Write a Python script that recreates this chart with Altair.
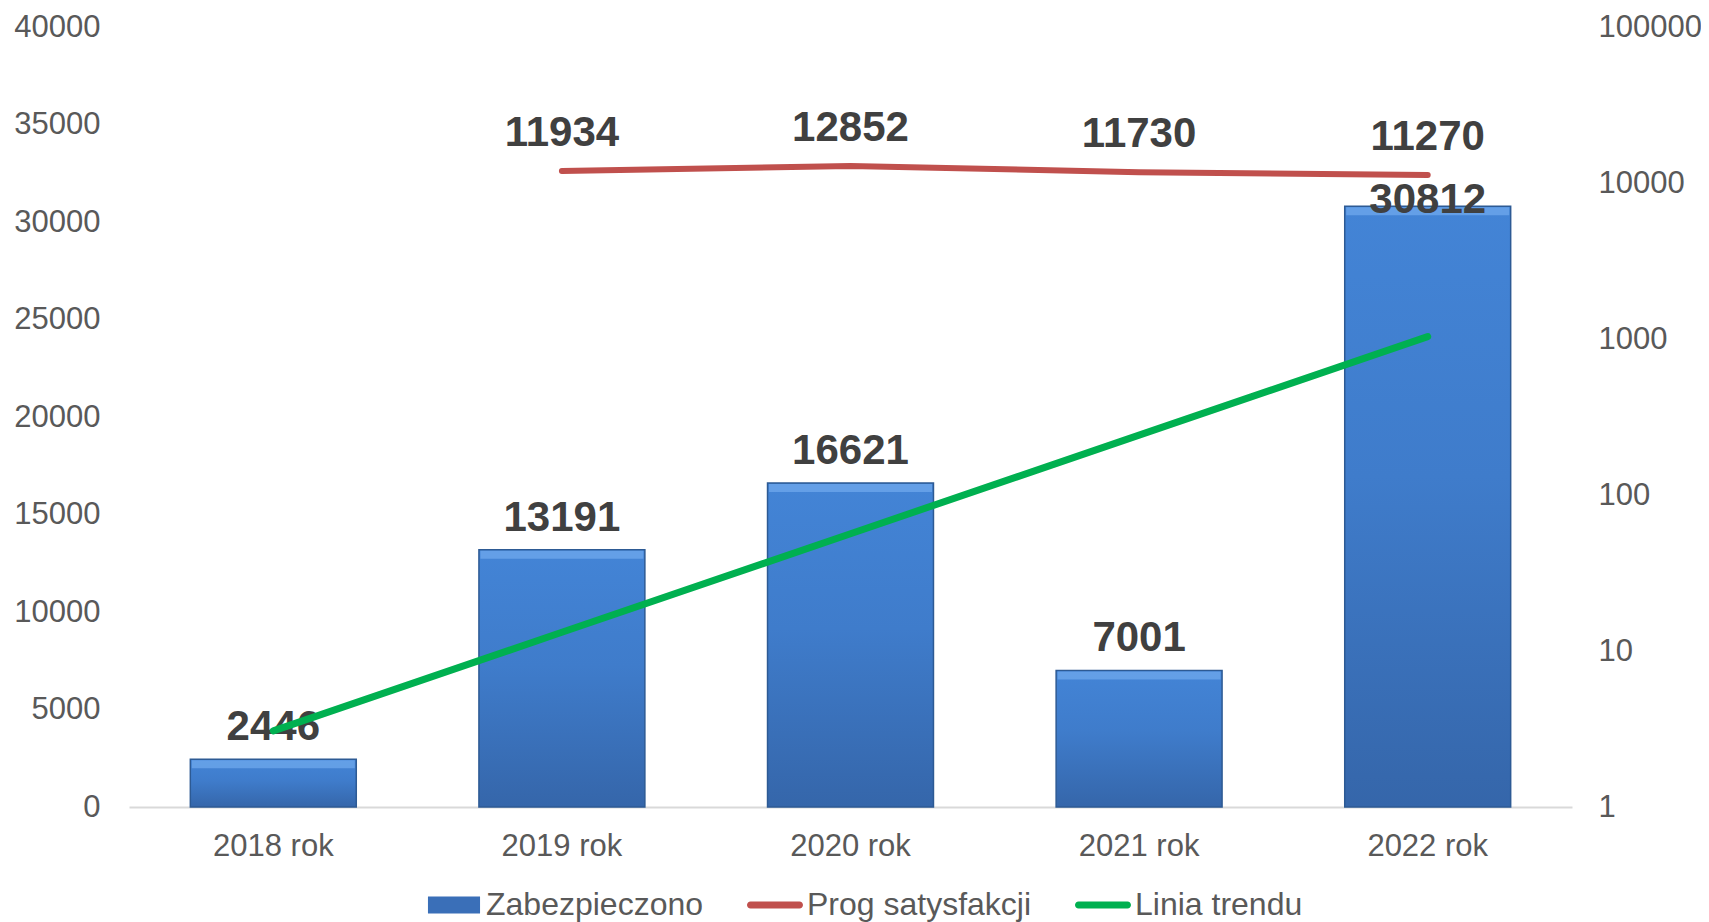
import altair as alt
import pandas as pd

categories = ["2018 rok", "2019 rok", "2020 rok", "2021 rok", "2022 rok"]
secured = [2446, 13191, 16621, 7001, 30812]
threshold_cats = ["2019 rok", "2020 rok", "2021 rok", "2022 rok"]
threshold = [11934, 12852, 11730, 11270]
trend = [3906, 8960, 14014, 19068, 24122]
series_names = ["Zabezpieczono", "Prog satysfakcji", "Linia trendu"]
series_colors = ["#3A6FB8", "#C0504D", "#00B050"]
left_ticks = [0, 5000, 10000, 15000, 20000, 25000, 30000, 35000, 40000]
right_ticks = [1, 10, 100, 1000, 10000, 100000]

FONT = "Liberation Sans, Arial, sans-serif"

bars_df = pd.DataFrame({"cat": categories, "value": secured})
thr_df = pd.DataFrame({"cat": threshold_cats, "value": threshold})
trend_df = pd.DataFrame({"cat": categories, "value": trend})
legend_df = pd.DataFrame({"cat": [categories[0]] * 3, "value": [0] * 3, "series": series_names})

W, H = 1443, 780

x_enc = alt.X("cat:N", sort=categories, title=None,
              scale=alt.Scale(paddingInner=0.425, paddingOuter=0.2125),
              axis=alt.Axis(labelAngle=0, labelFontSize=31, labelColor="#595959", labelFont=FONT,
                            labelPadding=24, ticks=False, domainColor="#D9D9D9", domainWidth=2,
                            grid=False))

y_left = alt.Y("value:Q", title=None,
               scale=alt.Scale(domain=[0, 40000], nice=False),
               axis=alt.Axis(values=left_ticks, labelFontSize=31, labelColor="#595959", labelFont=FONT,
                             labelPadding=29, ticks=False, domain=False, grid=False, orient="left",
                             format="d"))

y_right = alt.Y("value:Q", title=None,
                scale=alt.Scale(type="log", domain=[1, 100000], nice=False),
                axis=alt.Axis(values=right_ticks, labelFontSize=31, labelColor="#595959", labelFont=FONT,
                              labelPadding=26, ticks=False, domain=False, grid=False, orient="right",
                              labelAlign="left", format="d"))

grad = alt.Gradient(gradient="linear", x1=0, y1=0, x2=0, y2=1,
                    stops=[alt.GradientStop(color="#4384D6", offset=0),
                           alt.GradientStop(color="#3F7CCB", offset=0.45),
                           alt.GradientStop(color="#3566AA", offset=1)])

bars = alt.Chart(bars_df).mark_bar(color=grad, stroke="#2D5A94", strokeWidth=1.5).encode(x=x_enc, y=y_left)

bevel = alt.Chart(bars_df).mark_tick(color="#6FA8EC", opacity=0.75, thickness=8, size=163, yOffset=5).encode(
    x=x_enc, y=y_left)

bar_text = alt.Chart(bars_df).transform_filter("datum.value < 30000").mark_text(
    fontSize=42, fontWeight="bold", color="#404040", font=FONT, baseline="alphabetic", dy=-19
).encode(x=x_enc, y=y_left, text="value:Q")

bar_text_top = alt.Chart(bars_df).transform_filter("datum.value >= 30000").mark_text(
    fontSize=42, fontWeight="bold", color="#404040", font=FONT, baseline="alphabetic", dy=7
).encode(x=x_enc, y=y_left, text="value:Q")

trend_line = alt.Chart(trend_df).mark_line(color="#00B050", strokeWidth=7, strokeCap="round").encode(
    x=x_enc, y=y_left)

shape_paths = [
    "M-0.93,-0.30H0.93V0.30H-0.93Z",
    "M-0.875,-0.125H0.875A0.125,0.125 0 0 1 0.875,0.125H-0.875A0.125,0.125 0 0 1 -0.875,-0.125Z",
    "M-0.875,-0.125H0.875A0.125,0.125 0 0 1 0.875,0.125H-0.875A0.125,0.125 0 0 1 -0.875,-0.125Z",
]

leg = alt.Legend(title=None, orient="none", legendX=297, legendY=850, direction="horizontal",
                 columns=3, columnPadding=43, symbolSize=3136, symbolOpacity=1, symbolStrokeWidth=0,
                 labelFontSize=32, labelColor="#595959", labelFont=FONT, labelOffset=4, labelLimit=500)

legend_pts = alt.Chart(legend_df).mark_point(filled=True, opacity=0, size=10).encode(
    x=x_enc, y=y_left,
    color=alt.Color("series:N", scale=alt.Scale(domain=series_names, range=series_colors), legend=leg),
    shape=alt.Shape("series:N", scale=alt.Scale(domain=series_names, range=shape_paths), legend=leg),
)

left = alt.layer(bars, bevel, bar_text, bar_text_top, legend_pts, trend_line)

red_line = alt.Chart(thr_df).mark_line(color="#C0504D", strokeWidth=6, strokeCap="round").encode(
    x=x_enc, y=y_right)
red_text = alt.Chart(thr_df).mark_text(
    fontSize=42, fontWeight="bold", color="#404040", font=FONT, baseline="alphabetic", dy=-25
).encode(x=x_enc, y=y_right, text="value:Q")
right = alt.layer(red_line, red_text)

chart = alt.layer(left, right).resolve_scale(y="independent").properties(
    width=W, height=H,
    background="white",
    autosize=alt.AutoSizeParams(type="none"),
    padding={"left": 121, "top": 19, "right": 129, "bottom": 115},
).configure_view(strokeWidth=0)

chart.save("out.html", embed_options={"renderer": "svg", "actions": False})
